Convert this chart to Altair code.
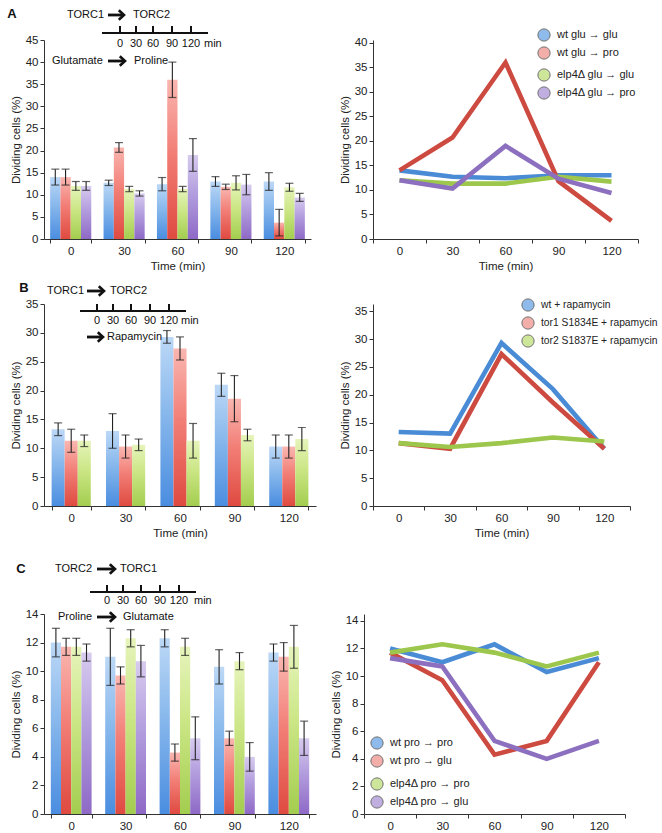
import altair as alt
import pandas as pd

FONT = "Liberation Sans"
INK = "#222222"

TIMES = ["0", "30", "60", "90", "120"]
TIMELINE_MARKS = ["0", "30", "60", "90", "120"]
Y_TITLE = "Dividing cells (%)"
X_TITLE = "Time (min)"

# ---- Panel A: TORC1 -> TORC2, glutamate -> proline ----
A_SERIES = ["wt glu → glu", "wt glu → pro", "elp4Δ glu → glu", "elp4Δ glu → pro"]
A_WT_GLU = [14.0, 12.7, 12.4, 13.0, 13.0]
A_WT_PRO = [14.0, 20.7, 36.0, 11.8, 3.7]
A_ELP_GLU = [12.0, 11.3, 11.3, 12.7, 11.7]
A_ELP_PRO = [12.0, 10.3, 19.0, 12.3, 9.4]
A_WT_GLU_ERR = [1.8, 0.6, 1.5, 1.1, 2.0]
A_WT_PRO_ERR = [1.8, 1.1, 4.0, 0.6, 3.0]
A_ELP_GLU_ERR = [1.0, 0.6, 0.6, 1.6, 0.9]
A_ELP_PRO_ERR = [1.0, 0.6, 3.7, 2.3, 0.9]

# ---- Panel B: rapamycin treatment ----
B_SERIES = ["wt + rapamycin", "tor1 S1834E + rapamycin", "tor2 S1837E + rapamycin"]
B_WT = [13.3, 13.0, 29.3, 21.0, 10.3]
B_TOR1 = [11.3, 10.3, 27.3, 18.6, 10.3]
B_TOR2 = [11.3, 10.6, 11.3, 12.3, 11.6]
B_WT_ERR = [1.1, 3.0, 1.1, 2.0, 2.0]
B_TOR1_ERR = [2.0, 2.0, 2.0, 4.0, 2.0]
B_TOR2_ERR = [1.0, 1.0, 3.0, 1.0, 2.0]

# ---- Panel C: TORC2 -> TORC1, proline -> glutamate ----
C_SERIES = ["wt pro → pro", "wt pro → glu", "elp4Δ pro → pro", "elp4Δ pro → glu"]
C_WT_PRO = [12.0, 11.0, 12.3, 10.3, 11.3]
C_WT_GLU = [11.7, 9.7, 4.3, 5.3, 11.0]
C_ELP_PRO = [11.7, 12.3, 11.7, 10.7, 11.7]
C_ELP_GLU = [11.3, 10.7, 5.3, 4.0, 5.3]
C_WT_PRO_ERR = [1.0, 2.0, 0.6, 1.2, 0.6]
C_WT_GLU_ERR = [0.6, 0.6, 0.6, 0.5, 1.0]
C_ELP_PRO_ERR = [0.6, 0.6, 0.6, 0.6, 1.5]
C_ELP_GLU_ERR = [0.6, 1.1, 1.5, 1.0, 1.2]

# colours
LINE_BLUE, LINE_RED, LINE_GREEN, LINE_PURPLE = "#4a8bd6", "#cd4a40", "#9cc74c", "#8c70bf"
KEY_BLUE, KEY_RED, KEY_GREEN, KEY_PURPLE = "#5f9fe4", "#f08c86", "#b9dc6e", "#a68cd4"
BAR_BLUE = ("#bcd8f6", "#88b8ec", "#4a8de0")
BAR_RED = ("#f9b6b0", "#f27f77", "#df4a40")
BAR_GREEN = ("#e6f4bb", "#cbe685", "#a3cd4f")
BAR_PURPLE = ("#d7cbef", "#b39ede", "#8e69c6")

ONE = pd.DataFrame({"k": [0]})


def long_table(series, means, errs):
    rows = []
    for name, vals, sd in zip(series, means, errs):
        for i, (t, v, e) in enumerate(zip(TIMES, vals, sd)):
            rows.append({"time": t, "order": i, "series": name, "value": v,
                         "lo": max(v - e, 0.0), "hi": v + e})
    return pd.DataFrame(rows)


A_DF = long_table(A_SERIES, [A_WT_GLU, A_WT_PRO, A_ELP_GLU, A_ELP_PRO],
                  [A_WT_GLU_ERR, A_WT_PRO_ERR, A_ELP_GLU_ERR, A_ELP_PRO_ERR])
B_DF = long_table(B_SERIES, [B_WT, B_TOR1, B_TOR2], [B_WT_ERR, B_TOR1_ERR, B_TOR2_ERR])
C_DF = long_table(C_SERIES, [C_WT_PRO, C_WT_GLU, C_ELP_PRO, C_ELP_GLU],
                  [C_WT_PRO_ERR, C_WT_GLU_ERR, C_ELP_PRO_ERR, C_ELP_GLU_ERR])


def shade(stops):
    top, mid, bottom = stops
    return alt.Gradient(
        gradient="linear", x1=0, x2=0, y1=0, y2=1,
        stops=[alt.GradientStop(color=top, offset=0),
               alt.GradientStop(color=mid, offset=0.45),
               alt.GradientStop(color=bottom, offset=1)])


# ---- small annotation helpers (pixel positions relative to the plot area) ----
def note(text, x, y, size=11, bold=False, align="left"):
    return alt.Chart(ONE).mark_text(
        text=text, align=align, baseline="middle", font=FONT, fontSize=size,
        fontWeight="bold" if bold else "normal", color="#111"
    ).encode(x=alt.value(x), y=alt.value(y))


def hline(x1, x2, y, w):
    return alt.Chart(ONE).mark_rule(color="#111", strokeWidth=w).encode(
        x=alt.value(x1), x2=alt.value(x2), y=alt.value(y))


def vline(x, y1, y2, w):
    return alt.Chart(ONE).mark_rule(color="#111", strokeWidth=w).encode(
        x=alt.value(x), y=alt.value(y1), y2=alt.value(y2))


def arrow(x1, x2, y):
    shaft = hline(x1, x2 - 1.5, y, 2.8)
    head = alt.Chart(ONE).mark_point(
        shape="M-1.1,-1L0,0L-1.1,1", filled=False, stroke="#111", strokeWidth=2.6,
        size=90, opacity=1, strokeJoin="miter"
    ).encode(x=alt.value(x2), y=alt.value(y))
    return [shaft, head]


def timeline(x1, x2, y, ticks, label_y, min_x):
    out = [hline(x1, x2, y, 2.2)]
    for tx, lab in zip(ticks, TIMELINE_MARKS):
        out.append(vline(tx, y - 7, y, 2.0))
        out.append(note(lab, tx, label_y, align="center"))
    out.append(note("min", min_x, label_y))
    return out


def bar_panel(df, series, fills, y_max, y_step, width, height, pad, x_title, deco):
    x = alt.X("time:N", sort=TIMES,
              scale=alt.Scale(paddingInner=pad, paddingOuter=pad / 2),
              axis=alt.Axis(title=x_title, labelAngle=0, tickBand="extent"))
    xo = alt.XOffset("series:N", sort=series, scale=alt.Scale(domain=series))
    y_scale = alt.Scale(domain=[0, y_max], nice=False)
    y_axis = alt.Axis(title=Y_TITLE, values=list(range(0, y_max + 1, y_step)))
    base = alt.Chart(df)
    layers = []
    for name, stops in zip(series, fills):
        layers.append(
            base.transform_filter(alt.datum.series == name)
            .mark_bar(color=shade(stops))
            .encode(x=x, xOffset=xo, y=alt.Y("value:Q", scale=y_scale, axis=y_axis)))
    lo_y = alt.Y("lo:Q", scale=y_scale, axis=y_axis)
    hi_y = alt.Y("hi:Q", scale=y_scale, axis=y_axis)
    layers.append(base.mark_rule(color=INK, strokeWidth=1.1).encode(
        x=x, xOffset=xo, y=lo_y, y2="hi:Q"))
    layers.append(base.mark_tick(color=INK, size=8, thickness=1.2).encode(
        x=x, xOffset=xo, y=lo_y))
    layers.append(base.mark_tick(color=INK, size=8, thickness=1.2).encode(
        x=x, xOffset=xo, y=hi_y))
    return alt.layer(*layers, *deco).properties(width=width, height=height)


def line_panel(df, series, colors, keys, y_top, y_max, y_step, width, height, x_title,
               key_font=11):
    x = alt.X("time:N", sort=TIMES,
              scale=alt.Scale(type="band", paddingInner=0, paddingOuter=0),
              axis=alt.Axis(title=x_title, labelAngle=0, tickBand="extent"))
    y = alt.Y("value:Q", scale=alt.Scale(domain=[0, y_top], nice=False),
              axis=alt.Axis(title=Y_TITLE, values=list(range(0, y_max + 1, y_step))))
    base = alt.Chart(df)
    lines = base.mark_line(strokeWidth=4.6).encode(
        x=x, y=y, order="order:Q",
        color=alt.Color("series:N", scale=alt.Scale(domain=series, range=colors), legend=None))
    layers = [lines]
    for names, fills, lx, ly in keys:
        layers.append(
            base.transform_filter("false")
            .mark_point(filled=True, stroke="#333", strokeWidth=1)
            .encode(x=x, y=y, fill=alt.Fill(
                "series:N", scale=alt.Scale(domain=names, range=fills),
                legend=alt.Legend(title=None, orient="none", legendX=lx, legendY=ly,
                                  symbolType="circle", symbolSize=150,
                                  symbolStrokeColor="#333", symbolStrokeWidth=1,
                                  labelFont=FONT, labelFontSize=key_font, labelColor=INK,
                                  labelOffset=6, rowPadding=0, labelLimit=200))))
    return (alt.layer(*layers).resolve_scale(fill="independent")
            .properties(width=width, height=height))


# ---- decorations above/inside each bar panel ----
deco_a = ([note("A", -32, -26, size=13, bold=True, align="center"),
           note("TORC1", 23, -25)] + arrow(64, 80, -25) + [note("TORC2", 89, -25)]
          + timeline(58, 164, -7, [76, 92, 109, 128, 147], 4, 160)
          + [note("Glutamate", 8, 21)] + arrow(64, 81, 21) + [note("Proline", 90, 21)])

deco_b = ([note("B", -20, -16, size=13, bold=True, align="center"),
           note("TORC1", 3, -13)] + arrow(43, 60, -13) + [note("TORC2", 66, -13)]
          + timeline(36, 142, 7, [53, 69, 87, 106, 125], 17, 137)
          + arrow(43, 59, 33) + [note("Rapamycin", 63, 33)])

deco_c = ([note("C", -23, -45, size=13, bold=True, align="center"),
           note("TORC2", 11, -45)] + arrow(53, 71, -45) + [note("TORC1", 76, -45)]
          + timeline(46, 152, -22, [63, 79, 97, 116, 135], -13, 150)
          + [note("Proline", 14, 3)] + arrow(53, 71, 3) + [note("Glutamate", 79, 3)])

bar_a = bar_panel(A_DF, A_SERIES, [BAR_BLUE, BAR_RED, BAR_GREEN, BAR_PURPLE],
                  45, 5, 267, 199, 0.23, X_TITLE, deco_a)
line_a = line_panel(A_DF, A_SERIES, [LINE_BLUE, LINE_RED, LINE_GREEN, LINE_PURPLE],
                    [(A_SERIES[:2], [KEY_BLUE, KEY_RED], 164, -12),
                     (A_SERIES[2:], [KEY_GREEN, KEY_PURPLE], 164, 28)],
                    40.6, 40, 5, 265, 199, X_TITLE)

bar_b = bar_panel(B_DF, B_SERIES, [BAR_BLUE, BAR_RED, BAR_GREEN],
                  35, 5, 272, 202, 0.28, X_TITLE, deco_b)
line_b = line_panel(B_DF, B_SERIES, [LINE_BLUE, LINE_RED, LINE_GREEN],
                    [(B_SERIES, [KEY_BLUE, KEY_RED, KEY_GREEN], 148, -6)],
                    36.3, 35, 5, 257, 202, X_TITLE, key_font=10.3)

bar_c = bar_panel(C_DF, C_SERIES, [BAR_BLUE, BAR_RED, BAR_GREEN, BAR_PURPLE],
                  14, 2, 272, 200, 0.25, None, deco_c)
line_c = line_panel(C_DF, C_SERIES, [LINE_BLUE, LINE_RED, LINE_GREEN, LINE_PURPLE],
                    [(C_SERIES[:2], [KEY_BLUE, KEY_RED], 6, 122),
                     (C_SERIES[2:], [KEY_GREEN, KEY_PURPLE], 6, 163)],
                    14.5, 14, 2, 261, 200, None)

INDEP = dict(x="independent", y="independent", color="independent",
             fill="independent", xOffset="independent")

row_a = alt.hconcat(bar_a, line_a, spacing=28).resolve_scale(**INDEP)
row_b = alt.hconcat(bar_b, line_b, spacing=23).resolve_scale(**INDEP)
row_c = alt.hconcat(bar_c, line_c, spacing=14).resolve_scale(**INDEP)
lower = alt.vconcat(row_b, row_c, spacing=20).resolve_scale(**INDEP)

chart = (
    alt.vconcat(row_a, lower, spacing=9)
    .resolve_scale(**INDEP)
    .properties(padding={"left": 7, "top": 5, "right": 0, "bottom": 0}, background="white")
    .configure_view(stroke=None)
    .configure_axis(labelFont=FONT, titleFont=FONT, labelFontSize=11.5, titleFontSize=11.5,
                    titleFontWeight="normal", labelColor=INK, titleColor=INK,
                    domainColor="#333", tickColor="#333", tickSize=4, grid=False,
                    labelPadding=2, titlePadding=4)
)

chart.save("out.html", embed_options={"renderer": "svg", "actions": False})
